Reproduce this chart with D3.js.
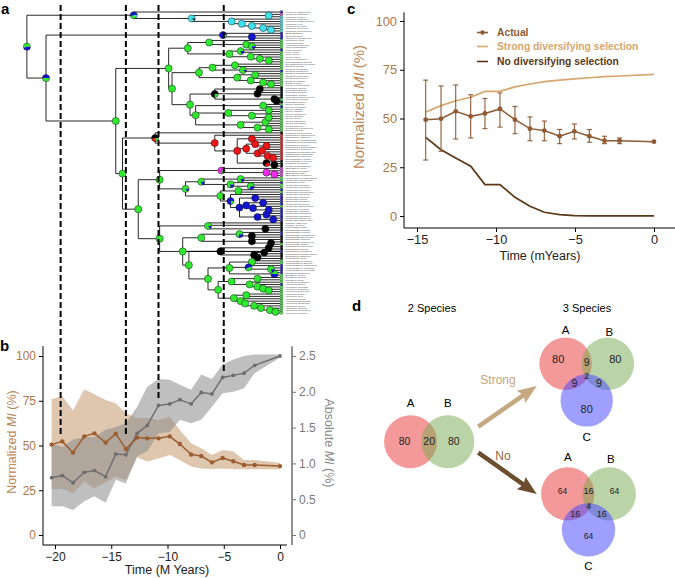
<!DOCTYPE html>
<html><head><meta charset="utf-8">
<script src="https://cdn.jsdelivr.net/npm/d3@7"></script>
<style>
body{margin:0;background:#fff}
svg{display:block;font-family:"Liberation Sans",Arial,Helvetica,sans-serif}
</style>
</head><body>
<svg id="fig" width="675" height="578"></svg>
<script>
// ---------------- DATA ----------------
// Panel a: phylogeny (tips are indices into tipNames / tipStates; internal labels = "age(Myr)|ancestral-state pie")
const tipNames = [
 "Picumnus innominatus","Picumnus nebulosus","Picumnus cirratus","Picumnus temminckii","Picumnus albosquamatus","Picumnus exilis","Picumnus aurifrons","Picumnus rufiventris","Picumnus minutissimus",
 "Sasia abnormis","Sasia ochracea","Nesoctites micromegas",
 "Meiglyptes tristis","Meiglyptes tukki","Hemicircus concretus","Picus chlorolophus","Picus puniceus","Picus viridis","Picus canus","Picus vittatus","Picus erythropygius","Chrysophlegma mentale",
 "Chrysophlegma flavinucha","Colaptes auratus","Colaptes chrysoides","Colaptes campestris","Colaptes melanochloros","Colaptes rubiginosus","Colaptes punctigula","Colaptes rupicola","Colaptes pitius","Piculus chrysochloros",
 "Dryocopus martius","Dryocopus javensis","Dryocopus pileatus","Dryocopus lineatus","Mulleripicus pulverulentus","Mulleripicus funebris","Dryocopus schulzi",
 "Celeus torquatus","Celeus flavescens","Celeus elegans","Celeus lugubris","Celeus grammicus","Celeus loricatus","Celeus flavus","Celeus castaneus","Celeus spectabilis","Celeus undatus","Micropternus brachyurus","Celeus galeatus",
 "Campephilus principalis","Campephilus magellanicus","Campephilus robustus","Campephilus melanoleucos","Campephilus guatemalensis","Campephilus pollens","Campephilus haematogaster","Campephilus rubricollis","Campephilus gayaquilensis","Campephilus leucopogon","Campephilus imperialis","Chrysocolaptes lucidus","Chrysocolaptes festivus","Dinopium javanense","Dinopium benghalense",
 "Sphyrapicus varius","Sphyrapicus nuchalis","Sphyrapicus ruber","Sphyrapicus thyroideus",
 "Melanerpes erythrocephalus","Melanerpes formicivorus","Melanerpes lewis","Melanerpes candidus","Melanerpes cruentatus","Melanerpes flavifrons","Melanerpes chrysauchen","Melanerpes pucherani","Melanerpes cactorum","Melanerpes striatus","Melanerpes radiolatus","Melanerpes herminieri","Melanerpes portoricensis","Melanerpes aurifrons","Melanerpes carolinus","Melanerpes uropygialis","Melanerpes hoffmannii","Melanerpes santacruzi","Melanerpes superciliaris",
 "Picoides tridactylus","Picoides arcticus","Dendrocopos major","Dendrocopos leucotos",
 "Dendrocopos syriacus","Dendrocopos himalayensis","Dendrocopos darjellensis","Dendrocopos noguchii","Dendrocopos hyperythrus","Dendrocopos medius",
 "Dendropicos fuscescens","Dendropicos goertae","Dendropicos namaquus","Dendropicos griseocephalus","Dendropicos obsoletus","Dendropicos elliotii",
 "Leuconotopicus villosus","Leuconotopicus borealis","Leuconotopicus albolarvatus","Leuconotopicus fumigatus","Leuconotopicus stricklandi","Dryobates pubescens","Dryobates nuttallii",
 "Dryobates scalaris","Dryobates minor","Veniliornis callonotus","Veniliornis dignus","Veniliornis nigriceps","Veniliornis fumigatus","Veniliornis passerinus",
 "Veniliornis affinis","Veniliornis kirkii","Veniliornis cassini","Veniliornis maculifrons","Veniliornis spilogaster","Veniliornis mixtus","Veniliornis lignarius","Veniliornis sanguineus","Veniliornis frontalis"
];
const tipStates = ("bmccccccc"+"bbb"+"ggggbggggg"+"gggbgggggg"+"kkkkkgk"+"gbgggggggggg"+"krrrrrrrrrrrkkk"+"mmmm"+
  "ggbggbgbbbbbgbbbbbb"+"kkkk"+"bbkkkg"+"kkbkkk"+"ggbbbbg"+"gggbggg"+"ggggggggg").split("");
const stateColors = {g:"#2fe82f", b:"#1515d0", k:"#000000", r:"#ee1616", m:"#ee2aee", c:"#3fe0ef"};

const cladePic  = "(0,((1,2)-1|c,(3,(4,(5,(6,(7,8)-0.8|c)-1.5|c)-2.5|c)-3.4|c)-4.3|c)-7.85|c90k10)-13|b55g35c10";
const cladeSas  = "(9,(10,11)-2.5|b)-5.07|b85g15";
const cladeD1   = "((12,(13,(14,15)-2.5|g80b20)-3|g)-6.3|g,((16,17)-3.5|g80b20,(18,(19,(20,21)-1|g)-1.8|g)-2.6|g)-4.5|g)-8.2|g";
const cladeD2a  = "(((22,23)-4|g,(24,25)-3.3|g90b10)-6|g,((26,27)-2.2|g,(28,(29,(30,31)-0.8|g)-1.5|g)-2.6|g)-3.8|g)-7.2|g";
const cladeDry  = "((32,33)-1.8|k,(34,35)-2|k,(36,(37,38)-0.3|k)-0.5|k)-5.8|k75g25";
const cladeCel  = "((39,40)-1.5|g,((41,42)-1|g,(43,(44,45)-1|g)-2.5|g)-4.6|g,((46,47)-1.3|g,(48,(49,50)-1|g)-2|g)-3.5|g)-7.5|g";
const cladeCamp = "(51,(52,((53,54)-2.5|r,((55,(56,57)-1.2|r)-2.2|r,((58,59)-1.6|r,(60,(61,62)-0.6|r)-1.1|r)-2|r)-3|r,(63,(64,65)-0.5|k)-1.2|k70r30)-3.8|r)-5.8|r)-11.1|k55r25g20";
const cladeSph  = "(66,(67,(68,69)-0.5|m)-1.2|m)-5.2|m80g20";
const cladeMel  = "(((70,71)-3.5|g80b20,(72,(73,74)-2.6|g70b30)-4.4|g75b25)-7|g80b20,((75,76)-3.7|g,(77,((78,79)-2.2|b,((80,81)-1.5|b,(82,(83,84)-1|b)-2.4|b)-3|b,((85,86)-1.2|b,(87,88)-0.6|b)-2|b)-3.6|b)-4.4|b80g20)-5.3|g)-8.4|g85b15";
const cladeH1   = "(89,90,(91,92)-1.3|k)-6.4|g85b15";
const cladeH2a  = "((93,(94,95)-2.5|k)-3.6|g70b30,(96,(97,98)-0.8|k)-2.5|k)-7|g";
const cladeK    = "((99,100)-1|k,((101,102)-1.4|k,(103,104)-2|k)-2.3|k)-5.3|k";
const cladeL1   = "((105,106)-2.5|g,(107,(108,109)-0.8|g80b20)-2.8|b60g40,(110,111)-0.5|b50g50)-4.5|g";
const cladeL2a  = "((112,113)-2|g,(114,(115,(116,(117,118)-1|g)-1.5|g)-2|g)-2.7|g)-4.3|g";
const cladeL2b  = "((119,120)-3|g,(121,(122,(123,(124,(125,(126,127)-0.4|g)-0.9|g)-1.7|g)-2.3|g)-3.1|g)-3.5|g)-4.1|g";
const treeNewick =
 `(${cladePic},(${cladeSas},((${cladeD1},(${cladeD2a},(${cladeDry},${cladeCel})-8|g)-9.6|g)-9.9|g,(${cladeCamp},((${cladeSph},${cladeMel})-10.7|g,(${cladeH1},((${cladeH2a},(${cladeK},(${cladeL1},(${cladeL2a},${cladeL2b})-5.5|g)-6.4|g)-8.1|g)-8.65|g))-10.7|g)-12.6|g)-14|g)-14.6|g)-20.8|g50b50)-22.5|g55b45`;

// dashed split times shown across panels a and b, and where they stop (normalized MI %)
const splitTimes = [-19.5, -13.7, -10.8, -5.0];
const splitStops = [55.5, 55.5, 76.5, 90.5];

// Panel b
const bTime    = [-20.3,-19.35,-18.4,-17.4,-16.5,-15.5,-14.6,-13.7,-12.7,-11.8,-10.8,-9.8,-8.9,-7.9,-7.0,-6.05,-5.1,-4.15,-3.2,-2.25,0];
const bNorm    = [50.5,52.3,46,55.1,56.8,51.6,56.6,48,54.4,54,54,55.1,50.8,45,44.1,40.6,43,41.2,39.1,39.1,38.5];
const bNormHi  = [75.8,77.6,69.5,81.4,78.6,75.4,73.6,68,65.2,65.5,64.2,66.1,58.7,51.2,48.4,44.7,47.5,46.6,41.9,41.9,40.4];
const bNormLo  = [25.5,25.9,23.3,29.8,26.1,29.4,32.6,30.7,43.4,41,42.8,44.7,41.9,38.2,37.2,36.9,37.2,36.9,36.7,36.7,36.7];
const bAbs     = [0.80,0.83,0.73,0.875,0.90,0.815,1.13,1.12,1.42,1.53,1.81,1.83,1.89,1.83,1.99,1.97,2.20,2.23,2.26,2.37,2.5];
const bAbsHi   = [1.28,1.23,1.33,1.37,1.37,1.47,1.51,1.56,1.79,2.07,2.18,2.17,2.10,2.03,2.24,2.18,2.38,2.45,2.5,2.52,2.52];
const bAbsLo   = [0.40,0.40,0.35,0.47,0.54,0.45,0.77,0.72,1.10,1.17,1.42,1.44,1.61,1.56,1.61,1.79,1.98,2.0,2.05,2.26,2.48];
const bXTicks  = [-20,-15,-10,-5,0];
const bYTicks  = [0,25,50,75,100];
const bY2Ticks = [0,0.5,1.0,1.5,2.0,2.5];

// Panel c
const cTime    = [-14.45,-13.48,-12.55,-11.6,-10.7,-9.75,-8.8,-7.85,-6.94,-5.97,-5.04,-4.09,-3.13,-2.18,0];
const cActual  = [49.4,49.9,53.7,51.1,52.6,54.9,49.4,44.8,43.8,40.9,43.4,40.9,38.6,38.6,38.1];
const cHi      = [69.7,66.7,67.2,62.2,60.3,63.1,56.2,50.8,48.7,44.4,47.2,44.3,40.9,40.0,null];
const cLo      = [28.7,33.2,39.5,40.0,44.8,45.6,42.2,38.6,38.6,37.1,39.5,37.8,37.1,37.1,null];
const cStrong  = [53.3,56.6,59.1,60.9,63.9,63.9,66.2,67.7,68.9,69.7,70.3,70.9,71.5,71.8,72.6];
const cNo      = [40.3,34.0,29.7,25.5,16.1,16.1,9.6,5.0,1.9,0.7,0.2,0.1,0.1,0.1,0.1];
const cXTicks  = [-15,-10,-5,0];
const cYTicks  = [0,25,50,75,100];
const cLegend  = ["Actual","Strong diversifying selection","No diversifying selection"];

// Panel d (Venn region counts)
const venn2Sets   = ["A","B"];
const venn2Values = [80,20,80];                 // A only, A∩B, B only
const venn3Sets   = ["A","B","C"];
const vennStrong  = [80,80,80,9,9,9,2];          // A,B,C,AB,AC,BC,ABC
const vennNo      = [64,64,64,16,16,16,4];
const arrowLabels = ["Strong","No"];

// ---------------- DRAWING ----------------
const svg = d3.select("#fig");
const brownTick = "#ad7748", brownTitle = "#b9875a";

// shared time scale for panels a & b
const xT = d3.scaleLinear().domain([-20,0]).range([55,280]);

// ---- Panel a: tree ----
function parseNewick(s){
  let i=0;
  function readLabel(){ let l=""; while(i<s.length && !",()".includes(s[i])) l+=s[i++]; return l; }
  function node(){
    if(s[i]==="("){
      i++; const ch=[node()];
      while(s[i]===","){ i++; ch.push(node()); }
      i++;
      const [age,pie]=readLabel().split("|");
      return {children:ch, age:+age, pie:pie||null};
    }
    return {tip:+readLabel(), age:0};
  }
  return node();
}
const root = d3.hierarchy(parseNewick(treeNewick));
const yTip = d3.scaleLinear().domain([0, tipNames.length-1]).range([12,313]);
root.eachAfter(n=>{
  if(!n.children) n.y = yTip(n.data.tip);
  else n.y = (n.children[0].y + n.children[n.children.length-1].y)/2;
  n.x = xT(n.data.age);
});
const gA = svg.append("g");
const brPath = d3.path();
root.each(n=>{
  if(n.parent){ brPath.moveTo(n.parent.x, n.y); brPath.lineTo(n.x, n.y); }
  if(n.children){ brPath.moveTo(n.x, n.children[0].y); brPath.lineTo(n.x, n.children[n.children.length-1].y); }
});
gA.append("path").attr("d",brPath.toString()).attr("fill","none").attr("stroke","#111").attr("stroke-width",0.9);
const leaves = root.leaves();
gA.selectAll("text.tip").data(leaves).join("text")
  .attr("x",d=>d.x+5.5).attr("y",d=>d.y+0.8).attr("font-size",2.25).attr("letter-spacing",0.12).attr("fill","#333")
  .attr("font-style","italic").text(d=>tipNames[d.data.tip]);
gA.selectAll("rect.tip").data(leaves).join("rect")
  .attr("x",d=>d.x+0.4).attr("y",d=>d.y-1.15).attr("width",2.4).attr("height",2.3)
  .attr("fill",d=>stateColors[tipStates[d.data.tip]]).attr("stroke","#222").attr("stroke-width",0.25);
const pieGen = d3.pie().value(d=>d.v).sort((a,b)=>a.v-b.v).startAngle(Math.PI/2).endAngle(Math.PI/2+2*Math.PI);
const arcGen = d3.arc().innerRadius(0).outerRadius(3.6);
function parsePie(p){ return (p.match(/[a-z]\d*/g)||[]).map(t=>({s:t[0], v:t.length>1?+t.slice(1):100})); }
const pieNodes = root.descendants().filter(n=>n.children && n.data.pie);
const pg = gA.selectAll("g.pie").data(pieNodes).join("g").attr("transform",d=>`translate(${d.x},${d.y})`);
pg.selectAll("path").data(d=>pieGen(parsePie(d.data.pie))).join("path")
  .attr("d",arcGen).attr("fill",d=>stateColors[d.data.s]);
pg.append("circle").attr("r",3.6).attr("fill","none").attr("stroke","#111").attr("stroke-width",0.45);
svg.append("text").attr("x",1).attr("y",14).attr("font-size",15).attr("font-weight","bold").text("a");

// ---- Panel b ----
const yB = d3.scaleLinear().domain([0,100]).range([535,356]);
const yB2 = d3.scaleLinear().domain([0,2.5]).range([535,356]);
const gB = svg.append("g");
const areaN = d3.area().x((d,i)=>xT(bTime[i])).y0((d,i)=>yB(bNormLo[i])).y1((d,i)=>yB(bNormHi[i]));
const areaA = d3.area().x((d,i)=>xT(bTime[i])).y0((d,i)=>yB2(bAbsLo[i])).y1((d,i)=>yB2(bAbsHi[i]));
gB.append("path").attr("d",areaN(bTime)).attr("fill","#c9a27a").attr("opacity",0.6);
gB.append("path").attr("d",areaA(bTime)).attr("fill","#8a8a8a").attr("opacity",0.55);
const lineN = d3.line().x((d,i)=>xT(bTime[i])).y(d=>yB(d));
const lineA = d3.line().x((d,i)=>xT(bTime[i])).y(d=>yB2(d));
gB.append("path").attr("d",lineA(bAbs)).attr("fill","none").attr("stroke","#6d6d6d").attr("stroke-width",1.4);
gB.selectAll("circle.a").data(bAbs).join("circle").attr("cx",(d,i)=>xT(bTime[i])).attr("cy",d=>yB2(d)).attr("r",1.9).attr("fill","#6d6d6d");
gB.append("path").attr("d",lineN(bNorm)).attr("fill","none").attr("stroke","#9b5d2f").attr("stroke-width",1.5);
gB.selectAll("circle.n").data(bNorm).join("circle").attr("cx",(d,i)=>xT(bTime[i])).attr("cy",d=>yB(d)).attr("r",2.2).attr("fill","#9b5d2f");
const axB = gB.append("g").attr("transform","translate(0,545)")
  .call(d3.axisBottom(xT).tickValues(bXTicks).tickSize(4).tickSizeOuter(0));
axB.select(".domain").attr("d",`M${xT(-21.07)},0H${xT(0.62)}`);
const ayB = gB.append("g").attr("transform","translate(43,0)")
  .call(d3.axisLeft(yB).tickValues(bYTicks).tickSize(4).tickSizeOuter(0));
ayB.select(".domain").attr("d",`M0,${yB(105.5)}V${yB(-5.6)}`);
const ayB2 = gB.append("g").attr("transform","translate(292,0)")
  .call(d3.axisRight(yB2).tickValues(bY2Ticks).tickSize(4).tickSizeOuter(0).tickFormat(d=>d===0?"0":d3.format(".1f")(d)));
ayB2.select(".domain").attr("d",`M0,${yB(105.5)}V${yB(-5.6)}`).attr("stroke","#777").attr("stroke-width",1.6);
[axB,ayB,ayB2].forEach(a=>a.selectAll("text").attr("font-size",12).attr("font-family","inherit"));
axB.selectAll("text").attr("fill","#222");
ayB.selectAll("text").attr("fill",brownTick);
ayB2.selectAll("text").attr("fill","#7a7a7a");
ayB2.selectAll(".tick line").attr("stroke","#777");
gB.append("text").attr("transform","translate(16,442) rotate(-90)").attr("text-anchor","middle")
  .attr("font-size",12.5).attr("fill",brownTitle)
  .html('Normalized <tspan font-style="italic">MI</tspan> (%)');
gB.append("text").attr("transform","translate(325,443) rotate(90)").attr("text-anchor","middle")
  .attr("font-size",12.5).attr("fill","#8a8a8a")
  .html('Absolute <tspan font-style="italic">MI</tspan> (%)');
gB.append("text").attr("x",167).attr("y",574).attr("text-anchor","middle").attr("font-size",12.5).attr("fill","#222").text("Time (M Years)");
svg.append("text").attr("x",0).attr("y",351).attr("font-size",15).attr("font-weight","bold").text("b");

svg.append("g").selectAll("line").data(splitTimes).join("line")
  .attr("x1",d=>xT(d)).attr("x2",d=>xT(d)).attr("y1",5).attr("y2",(d,i)=>yB(splitStops[i]))
  .attr("stroke","#000").attr("stroke-width",2).attr("stroke-dasharray","6,3");

// ---- Panel c ----
const xC = d3.scaleLinear().domain([-15,0]).range([417,654]);
const yC = d3.scaleLinear().domain([0,100]).range([216,21]);
const gC = svg.append("g");
const cBrown="#8e5a34", cLight="#d6a66e", cDark="#5b3817";
const lineC = d3.line().x((d,i)=>xC(cTime[i])).y(d=>yC(d));
gC.append("path").attr("d",lineC(cStrong)).attr("fill","none").attr("stroke",cLight).attr("stroke-width",1.7);
gC.append("path").attr("d",lineC(cNo)).attr("fill","none").attr("stroke",cDark).attr("stroke-width",1.7);
const eb = gC.append("g").attr("stroke",cBrown).attr("stroke-width",1.1);
cTime.forEach((t,i)=>{
  if(cHi[i]==null) return;
  const x=xC(t);
  eb.append("line").attr("x1",x).attr("x2",x).attr("y1",yC(cHi[i])).attr("y2",yC(cLo[i]));
  eb.append("line").attr("x1",x-2.5).attr("x2",x+2.5).attr("y1",yC(cHi[i])).attr("y2",yC(cHi[i]));
  eb.append("line").attr("x1",x-2.5).attr("x2",x+2.5).attr("y1",yC(cLo[i])).attr("y2",yC(cLo[i]));
});
gC.append("path").attr("d",lineC(cActual)).attr("fill","none").attr("stroke",cBrown).attr("stroke-width",1.5);
gC.selectAll("circle").data(cActual).join("circle").attr("cx",(d,i)=>xC(cTime[i])).attr("cy",d=>yC(d)).attr("r",2.4).attr("fill",cBrown);
const axC = gC.append("g").attr("transform","translate(0,228)")
  .call(d3.axisBottom(xC).tickValues(cXTicks).tickSize(4).tickSizeOuter(0));
axC.select(".domain").attr("d",`M404,0H675`);
const ayC = gC.append("g").attr("transform","translate(404,0)")
  .call(d3.axisLeft(yC).tickValues(cYTicks).tickSize(4).tickSizeOuter(0));
ayC.select(".domain").attr("d",`M0,${yC(104.5)}V228`);
[axC,ayC].forEach(a=>a.selectAll("text").attr("font-size",12.8).attr("font-family","inherit"));
axC.selectAll("text").attr("fill","#222");
ayC.selectAll("text").attr("fill",brownTick);
gC.append("text").attr("transform","translate(364,107) rotate(-90)").attr("text-anchor","middle")
  .attr("font-size",15).attr("fill",brownTitle)
  .html('Normalized <tspan font-style="italic">MI</tspan> (%)');
gC.append("text").attr("x",540).attr("y",260).attr("text-anchor","middle").attr("font-size",12.5).attr("fill","#222").text("Time (mYears)");
const legColors=[cBrown,cLight,cDark];
const lg = gC.append("g").selectAll("g").data(cLegend).join("g").attr("transform",(d,i)=>`translate(477,${[32.5,46.5,61.5][i]})`);
lg.append("line").attr("x1",0).attr("x2",11).attr("stroke",(d,i)=>legColors[i]).attr("stroke-width",1.6);
lg.filter((d,i)=>i===0).append("circle").attr("cx",5.5).attr("r",2.2).attr("fill",cBrown);
lg.append("text").attr("x",20).attr("y",3.7).attr("font-size",10.3).attr("font-weight","bold")
  .attr("fill",(d,i)=>legColors[i]).text(d=>d);
svg.append("text").attr("x",347).attr("y",14).attr("font-size",15).attr("font-weight","bold").text("c");

// ---- Panel d ----
const gD = svg.append("g");
svg.append("text").attr("x",352).attr("y",311).attr("font-size",15).attr("font-weight","bold").text("d");
gD.append("text").attr("x",432).attr("y",312).attr("text-anchor","middle").attr("font-size",11).text("2 Species");
gD.append("text").attr("x",587).attr("y",312).attr("text-anchor","middle").attr("font-size",11).text("3 Species");
const vFill = ["rgb(235,70,70)","rgb(120,170,80)","rgb(70,70,255)"];
const vOp = [0.55,0.5,0.52];
(function(){
  const cx=429.2, cy=441.7, r=26.5, d=37.3;
  const cs=[cx-d/2, cx+d/2];
  cs.forEach((x,i)=>gD.append("circle").attr("cx",x).attr("cy",cy).attr("r",r).attr("fill",vFill[i]).attr("opacity",vOp[i]));
  venn2Sets.forEach((s,i)=>gD.append("text").attr("x",cs[i]).attr("y",cy-34.5).attr("text-anchor","middle").attr("font-size",11.5).text(s));
  const lx=[cs[0]-6, cx, cs[1]+6];
  venn2Values.forEach((v,i)=>gD.append("text").attr("x",lx[i]).attr("y",cy+3.5).attr("text-anchor","middle").attr("font-size",10.5).attr("fill","#222").text(v));
})();
function venn3(cx,cy,d,r,vals,fs,kS,kP,gapTop,gapBot){
  const rr=d/Math.sqrt(3);
  const dirs=[[-Math.cos(Math.PI/6),-0.5],[Math.cos(Math.PI/6),-0.5],[0,1]];
  dirs.forEach((v,i)=>gD.append("circle").attr("cx",cx+v[0]*rr).attr("cy",cy+v[1]*rr).attr("r",r).attr("fill",vFill[i]).attr("opacity",vOp[i]));
  const lpos=[...dirs.map(v=>[cx+v[0]*rr*kS, cy+v[1]*rr*kS])];
  [2,1,0].forEach(o=>lpos.push([cx-dirs[o][0]*rr*kP, cy-dirs[o][1]*rr*kP]));
  lpos.push([cx,cy]);
  vals.forEach((v,i)=>gD.append("text").attr("x",lpos[i][0]).attr("y",lpos[i][1]+fs[i]*0.36)
     .attr("text-anchor","middle").attr("font-size",fs[i]).attr("fill","#222").text(v));
  venn3Sets.forEach((s,i)=>{
    const x=cx+dirs[i][0]*rr, y=cy+dirs[i][1]*rr;
    gD.append("text").attr("x",i===1?x+1.5:x).attr("y",i<2?y-r-gapTop+(i===1?2:0):y+r+gapBot)
      .attr("text-anchor","middle").attr("font-size",11.5).text(s);
  });
}
venn3(586.7,376,42.3,26.2,vennStrong,[11,11,11,10.5,10.5,10.5,8.5],1.35,0.58,3.5,14);
venn3(588.5,505.9,41.5,26.7,vennNo,[8.5,8.5,8.5,9,9,9,8.5],1.25,0.64,6.5,13);
function arrow(x1,y1,x2,y2,col,w,hl,hw){
  const a=Math.atan2(y2-y1,x2-x1), L=Math.hypot(x2-x1,y2-y1);
  const p=[[0,-w/2],[L-hl,-w/2],[L-hl-2,-hw/2],[L,0],[L-hl-2,hw/2],[L-hl,w/2],[0,w/2]];
  gD.append("path").attr("d",d3.line()(p)+"Z").attr("fill",col)
    .attr("transform",`translate(${x1},${y1}) rotate(${a*180/Math.PI})`);
}
arrow(478.3,426.7,536.7,386,"#c4a882",4.5,17,15);
arrow(478.3,452.7,536.7,494,"#6c4d2d",4.5,17,15);
gD.append("text").attr("x",498).attr("y",383.5).attr("text-anchor","middle").attr("font-size",12).attr("fill","#c8a37a").text(arrowLabels[0]);
gD.append("text").attr("x",503).attr("y",459.5).attr("text-anchor","middle").attr("font-size",12).attr("fill","#8a6846").text(arrowLabels[1]);
</script>
</body></html>
